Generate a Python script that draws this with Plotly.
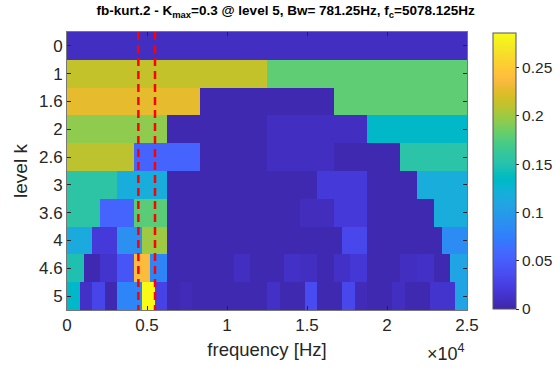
import numpy as np
import plotly.graph_objects as go

# ---- data ----
level_labels = ["0", "1", "1.6", "2", "2.6", "3", "3.6", "4", "4.6", "5"]
fs_half = 25000.0

lvl0 = [0.009]
lvl1 = [0.213, 0.18]
lvl1_6 = [0.227, 0.003, 0.18]
lvl2 = [0.195, 0.003, 0.01, 0.132]
lvl2_6 = [0.21, 0.055, 0.003, 0.01, 0.003, 0.154]
lvl3 = [0.155, 0.118, 0.003, 0.003, 0.003, 0.02, 0.003, 0.118]
lvl3_6 = [0.155, 0.055, 0.178, 0.003, 0.003, 0.003, 0.003, 0.008, 0.02, 0.003, 0.003, 0.118]
lvl4 = [0.115, 0.02, 0.09, 0.2, 0.003, 0.003, 0.003, 0.003, 0.003, 0.003, 0.003, 0.032,
        0.003, 0.003, 0.003, 0.086]
lvl4_6 = [0.148, 0.003, 0.015, 0.043, 0.238, 0.08, 0.003, 0.003, 0.003, 0.003, 0.01, 0.003,
          0.003, 0.012, 0.01, 0.003, 0.012, 0.018, 0.003, 0.003, 0.01, 0.012, 0.003, 0.108]
lvl5 = [0.132, 0.012, 0.03, 0.003, 0.08, 0.08, 0.286, 0.028, 0.003, 0.006, 0.003, 0.003,
        0.003, 0.003, 0.003, 0.003, 0.012, 0.003, 0.003, 0.035, 0.003, 0.003, 0.032, 0.006,
        0.003, 0.003, 0.01, 0.003, 0.003, 0.015, 0.015, 0.108]
levels = [lvl0, lvl1, lvl1_6, lvl2, lvl2_6, lvl3, lvl3_6, lvl4, lvl4_6, lvl5]

red_lines = [4460, 5500]
xtick_vals = [0, 5000, 10000, 15000, 20000, 25000]
xtick_text = ["0", "0.5", "1", "1.5", "2", "2.5"]
cbar_ticks = [0, 0.05, 0.1, 0.15, 0.2, 0.25]
cbar_text = ["0", "0.05", "0.1", "0.15", "0.2", "0.25"]
zmin, zmax = 0.0, 0.286

# ---- build matrix at finest common resolution ----
ncol = 96
z = np.array([np.repeat(row, ncol // len(row)) for row in levels])
xc = (np.arange(ncol) + 0.5) * fs_half / ncol
yc = np.arange(len(levels))

parula = [
    [0.2422, 0.1504, 0.6603], [0.2504, 0.1650, 0.7076], [0.2578, 0.1818, 0.7511], [0.2647, 0.1978, 0.7952],
    [0.2706, 0.2147, 0.8364], [0.2751, 0.2342, 0.8710], [0.2783, 0.2559, 0.8991], [0.2803, 0.2782, 0.9221],
    [0.2813, 0.3006, 0.9414], [0.2810, 0.3228, 0.9579], [0.2795, 0.3447, 0.9717], [0.2760, 0.3667, 0.9829],
    [0.2699, 0.3892, 0.9906], [0.2602, 0.4123, 0.9952], [0.2440, 0.4358, 0.9988], [0.2206, 0.4603, 0.9973],
    [0.1963, 0.4847, 0.9892], [0.1834, 0.5074, 0.9798], [0.1786, 0.5289, 0.9682], [0.1764, 0.5499, 0.9520],
    [0.1687, 0.5703, 0.9359], [0.1540, 0.5902, 0.9218], [0.1460, 0.6091, 0.9079], [0.1380, 0.6276, 0.8973],
    [0.1248, 0.6459, 0.8883], [0.1113, 0.6635, 0.8763], [0.0952, 0.6798, 0.8598], [0.0689, 0.6948, 0.8394],
    [0.0297, 0.7082, 0.8163], [0.0036, 0.7203, 0.7917], [0.0067, 0.7312, 0.7660], [0.0433, 0.7411, 0.7394],
    [0.0964, 0.7500, 0.7120], [0.1408, 0.7584, 0.6842], [0.1717, 0.7670, 0.6554], [0.1938, 0.7758, 0.6251],
    [0.2161, 0.7843, 0.5923], [0.2470, 0.7918, 0.5567], [0.2906, 0.7973, 0.5188], [0.3406, 0.8008, 0.4789],
    [0.3909, 0.8029, 0.4354], [0.4456, 0.8024, 0.3909], [0.5044, 0.7993, 0.3480], [0.5616, 0.7942, 0.3045],
    [0.6174, 0.7876, 0.2612], [0.6720, 0.7793, 0.2227], [0.7242, 0.7698, 0.1910], [0.7738, 0.7598, 0.1646],
    [0.8203, 0.7498, 0.1535], [0.8634, 0.7406, 0.1596], [0.9035, 0.7330, 0.1774], [0.9393, 0.7288, 0.2100],
    [0.9728, 0.7298, 0.2394], [0.9956, 0.7434, 0.2371], [0.9970, 0.7659, 0.2199], [0.9952, 0.7893, 0.2028],
    [0.9892, 0.8136, 0.1885], [0.9786, 0.8386, 0.1766], [0.9676, 0.8639, 0.1643], [0.9610, 0.8890, 0.1537],
    [0.9597, 0.9135, 0.1423], [0.9628, 0.9373, 0.1265], [0.9691, 0.9606, 0.1064], [0.9769, 0.9839, 0.0805],
]
n = len(parula)
colorscale = [[i / (n - 1), "rgb(%d,%d,%d)" % tuple(int(round(c * 255)) for c in rgb)]
              for i, rgb in enumerate(parula)]

FONT = "Liberation Sans, Arial, Helvetica, sans-serif"
AX = "#262626"

fig = go.Figure()
fig.add_trace(go.Heatmap(
    x=xc, y=yc, z=z, zmin=zmin, zmax=zmax, colorscale=colorscale,
    showscale=True,
    colorbar=dict(
        x=1.065, xanchor="left", xref="paper", xpad=0, ypad=0,
        y=0.5, yanchor="middle",
        thickness=23, thicknessmode="pixels",
        len=276, lenmode="pixels",
        tickvals=cbar_ticks, ticktext=cbar_text,
        ticks="outside", ticklen=3, tickcolor=AX,
        outlinecolor="#555", outlinewidth=1,
        tickfont=dict(family=FONT, size=15.5, color=AX),
    ),
    hoverinfo="skip",
))

for xv in red_lines:
    fig.add_trace(go.Scatter(
        x=[xv, xv], y=[-0.5, len(levels) - 0.5], mode="lines",
        line=dict(color="#ff0000", width=2.5, dash="8px,5px"),
        showlegend=False, hoverinfo="skip",
    ))

fig.update_layout(
    width=560, height=371,
    margin=dict(l=67, r=93, t=32, b=61, autoexpand=False),
    paper_bgcolor="white", plot_bgcolor="white",
    font=dict(family=FONT, color=AX),
    title=dict(
        text="<b>fb-kurt.2 - K<sub>max</sub>=0.3 @ level 5, Bw= 781.25Hz, f<sub>c</sub>=5078.125Hz</b>",
        x=0.51, xanchor="center", y=0.985, yanchor="top",
        font=dict(family=FONT, size=13.5, color="black"),
    ),
    showlegend=False,
)
fig.update_xaxes(
    range=[0, fs_half], tickvals=xtick_vals, ticktext=xtick_text,
    ticks="inside", ticklen=4, tickcolor=AX, mirror="ticks",
    showline=True, linecolor="#777", linewidth=1, showgrid=False, zeroline=False,
    tickfont=dict(family=FONT, size=17, color=AX),
    title=dict(text="frequency [Hz]", font=dict(family=FONT, size=18.5, color=AX), standoff=8),
)
fig.update_yaxes(
    range=[len(levels) - 0.5, -0.5], tickvals=list(yc), ticktext=level_labels,
    ticks="inside", ticklen=4, tickcolor=AX, mirror="ticks",
    showline=True, linecolor="#777", linewidth=1, showgrid=False, zeroline=False,
    tickfont=dict(family=FONT, size=17, color=AX),
    title=dict(text="level k", font=dict(family=FONT, size=19, color=AX), standoff=6),
)
fig.add_annotation(
    text="\u00d710<sup>4</sup>", xref="paper", yref="paper", x=1.0, y=-0.105,
    xanchor="right", yanchor="top", showarrow=False,
    font=dict(family=FONT, size=18, color=AX),
)

fig.write_html("out.html", config={"displayModeBar": False},
               post_script="document.body.style.margin='0px';")
